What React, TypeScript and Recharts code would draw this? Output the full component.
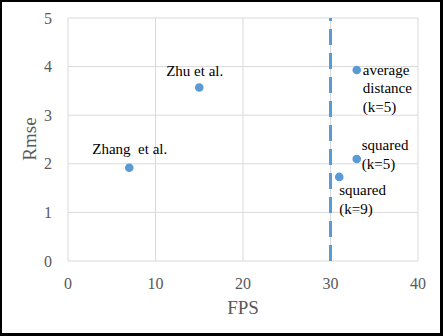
import React from "react";
import {
  ScatterChart,
  Scatter,
  XAxis,
  YAxis,
  CartesianGrid,
  ReferenceLine,
} from "recharts";

const fps = [7, 15, 33, 33, 31];
const rmse = [1.92, 3.57, 3.93, 2.1, 1.73];
const pointLabels = [
  ["Zhang  et al."],
  ["Zhu et al."],
  ["average", "distance", "(k=5)"],
  ["squared", "(k=5)"],
  ["squared", "(k=9)"],
];
const xTicks = [0, 10, 20, 30, 40];
const yTicks = [0, 1, 2, 3, 4, 5];
const thresholdFps = 30;

// label placement (style): dx, dy of first baseline, anchor
const labelPlacement = [
  { dx: 0.5, dy: -14, anchor: "middle" },
  { dx: -4.5, dy: -11, anchor: "middle" },
  { dx: 6, dy: 4.5, anchor: "start" },
  { dx: 5, dy: -8.5, anchor: "start" },
  { dx: 0, dy: 18.5, anchor: "start" },
];

const data = fps.map((x, i) => ({ x, y: rmse[i], idx: i }));

const FONT = "Liberation Serif";
const BLUE = "#5b9bd5";
const GRAY = "#595959";

const PointShape = (props: any) => {
  const { cx, cy, payload } = props;
  const i = payload.idx;
  const p = labelPlacement[i];
  const lines = pointLabels[i];
  return (
    <g>
      <circle cx={cx} cy={cy} r={4.3} fill={BLUE} />
      <text
        x={cx + p.dx}
        y={cy + p.dy}
        textAnchor={p.anchor as any}
        style={{ whiteSpace: "pre", fontFamily: FONT, fontSize: 15, fill: "#000" }}
      >
        {lines.map((l, k) => (
          <tspan key={k} x={cx + p.dx} dy={k === 0 ? 0 : 18.5}>
            {l}
          </tspan>
        ))}
      </text>
    </g>
  );
};

const RmseLabel = () => (
  <text
    x={29.5}
    y={139}
    transform="rotate(-90, 29.5, 139)"
    textAnchor="middle"
    dominantBaseline="central"
    style={{ fontFamily: FONT, fontSize: 19, fill: GRAY }}
  >
    Rmse
  </text>
);

const tickStyle = { fontFamily: FONT, fontSize: 16, fill: GRAY };

export default function App() {
  return (
    <div style={{ position: "absolute", left: 0, top: 0, width: 443, height: 336, background: "#fff", fontFamily: FONT }}>
      <ScatterChart
        width={443}
        height={336}
        margin={{ top: 18, right: 25, bottom: 0, left: 0 }}
        style={{ fontFamily: FONT }}
      >
        <CartesianGrid stroke="#d9d9d9" strokeWidth={1} />
        <XAxis
          type="number"
          dataKey="x"
          domain={[0, 40]}
          ticks={xTicks}
          axisLine={false}
          tickLine={false}
          tickMargin={11}
          height={75}
          tick={{ ...tickStyle, style: tickStyle }}
          label={{
            value: "FPS",
            position: "insideBottom",
            offset: 22,
            fontFamily: FONT,
            fontSize: 19,
            fill: GRAY,
            style: { fontFamily: FONT, fontSize: 19, fill: GRAY },
          }}
        />
        <YAxis
          type="number"
          dataKey="y"
          domain={[0, 5]}
          ticks={yTicks}
          axisLine={false}
          tickLine={false}
          tickMargin={10}
          width={68}
          tick={{ ...tickStyle, style: tickStyle }}
          label={<RmseLabel />}
        />
        <ReferenceLine
          x={thresholdFps}
          stroke={BLUE}
          strokeWidth={3}
          strokeDasharray="16 8"
        />
        <Scatter data={data} shape={PointShape} isAnimationActive={false} />
      </ScatterChart>
      <div
        style={{
          position: "absolute",
          left: 0,
          top: 0,
          width: 443,
          height: 336,
          boxSizing: "border-box",
          borderStyle: "solid",
          borderColor: "#000",
          borderWidth: "2px 3px 3px 2px",
          pointerEvents: "none",
        }}
      />
    </div>
  );
}
